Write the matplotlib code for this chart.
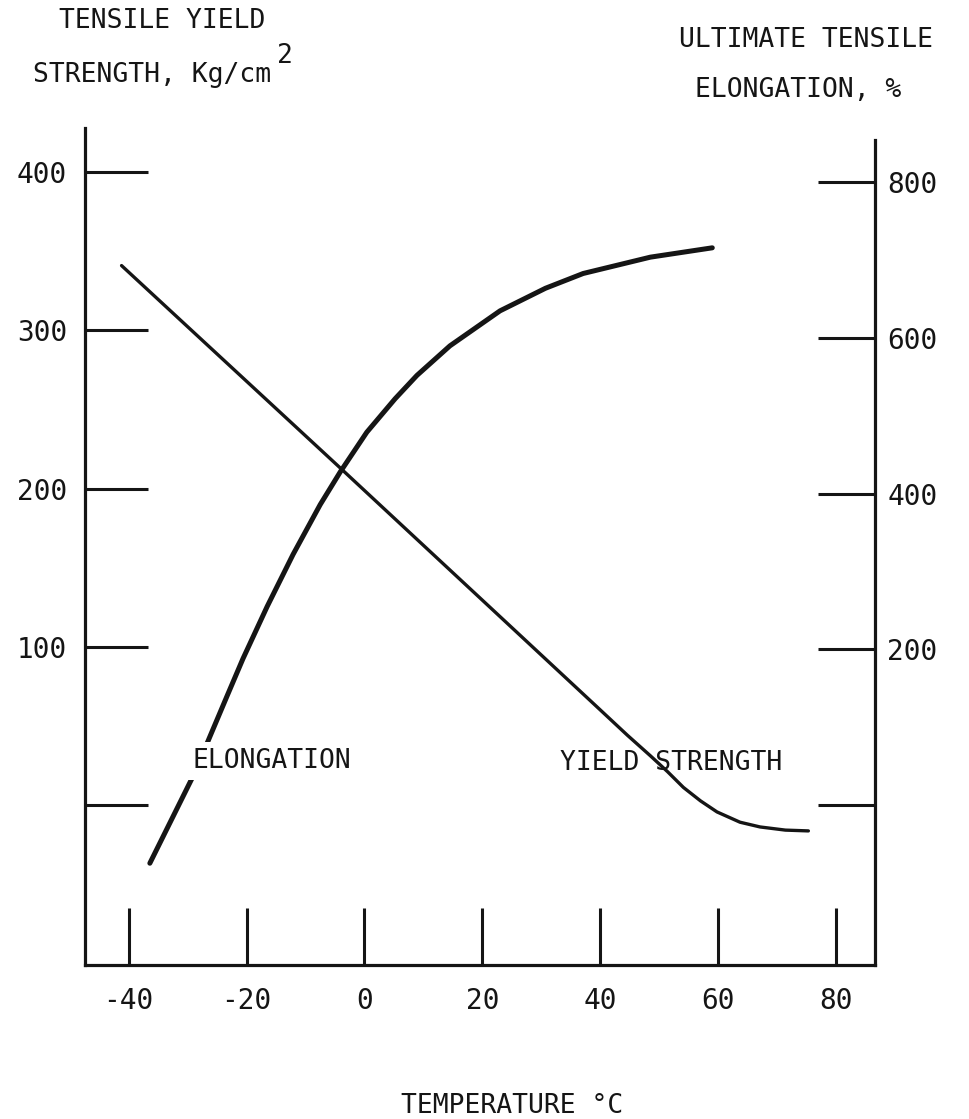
import numpy as np
import matplotlib
matplotlib.use("Agg")
import matplotlib.pyplot as plt

# temperature, deg C
TEMP_TICKS = [-40, -20, 0, 20, 40, 60, 80]

# tensile yield strength, kg/cm2 (left axis)
yield_temp = [-41.2, -4.1, 23.0, 40.0, 44.6, 48.5, 51.4, 54.1, 57.0, 59.8, 63.7, 67.1, 71.4, 75.3]
yield_str = [341, 213, 119, 60, 44, 31, 21, 11, 2.5, -4.5, -11, -14, -16, -16.5]
YIELD_TICKS = [0, 100, 200, 300, 400]
YIELD_LABELS = ["", "100", "200", "300", "400"]

# ultimate tensile elongation, % (right axis)
elong_temp = [-36.4, -28.8, -26.2, -23.3, -20.6, -16.5, -12.1, -7.5, -4.1, 0.4,
              5.2, 8.9, 14.5, 23.0, 30.7, 37.1, 48.5, 59.0]
elong_pct = [-75, 41, 88, 140, 188, 255, 322, 386, 428, 479,
             522, 552, 590, 635, 664, 683, 704, 716]
ELONG_TICKS = [0, 200, 400, 600, 800]
ELONG_LABELS = ["", "200", "400", "600", "800"]

W, H = 970, 1119
INK = "#151515"
FONT = "DejaVu Sans Mono"

plt.rcParams["font.family"] = FONT


def px(x, y):
    """pixel position (from top-left) -> figure fraction"""
    return x / W, 1 - y / H


fig = plt.figure(figsize=(W / 100, H / 100), dpi=100)
left, right, top, bottom = 85, 875, 128, 965
ax = fig.add_axes([left / W, 1 - bottom / H, (right - left) / W, (bottom - top) / H])
ax2 = ax.twinx()

ax.set_xlim(-47.4, 86.6)
ax.set_ylim(-101.3, 428)
ax2.set_ylim(-205.8, 870)

ax.plot(yield_temp, yield_str, color=INK, lw=2.4, solid_capstyle="round",
        solid_joinstyle="round")
ax2.plot(elong_temp, elong_pct, color=INK, lw=3.6, solid_capstyle="round",
         solid_joinstyle="round")

for a in (ax, ax2):
    a.patch.set_visible(False)
    for s in a.spines.values():
        s.set_visible(False)
ax.spines["left"].set_visible(True)
ax.spines["bottom"].set_visible(True)
ax2.spines["right"].set_visible(True)
for s in (ax.spines["left"], ax.spines["bottom"], ax2.spines["right"]):
    s.set_linewidth(2.3)
    s.set_color(INK)
ax2.spines["right"].set_bounds(-205.8, 855)

ax.set_xticks(TEMP_TICKS)
ax.set_xticklabels([str(t) for t in TEMP_TICKS])
ax.set_yticks(YIELD_TICKS)
ax.set_yticklabels(YIELD_LABELS)
ax2.set_yticks(ELONG_TICKS)
ax2.set_yticklabels(ELONG_LABELS)

ax.tick_params(axis="x", direction="in", length=41, width=2.2, color=INK,
               labelsize=20, labelcolor=INK, pad=16)
ax.tick_params(axis="y", direction="in", length=45, width=2.2, color=INK,
               labelsize=20, labelcolor=INK, pad=13)
ax2.tick_params(axis="y", direction="in", length=41, width=2.2, color=INK,
                labelsize=20, labelcolor=INK, pad=9)

txt = dict(fontsize=19, color=INK, ha="center", va="baseline")

fig.text(*px(162, 28), "TENSILE YIELD", **txt)
unit = fig.text(*px(152, 82), "STRENGTH, Kg/cm", **txt)
fig.text(*px(806, 47), "ULTIMATE TENSILE", **txt)
fig.text(*px(798, 97), "ELONGATION, %", **txt)

# raised typewriter-style exponent after the unit
fig.canvas.draw()
ub = unit.get_window_extent()
fig.text((ub.x1 + 6) / W, 1 - 63 / H, "2", fontsize=19, color=INK,
         ha="left", va="baseline")

fig.text(*px(272, 768), "ELONGATION",
         bbox=dict(facecolor="white", edgecolor="none", pad=4), **txt)
fig.text(*px(671, 770), "YIELD STRENGTH", **txt)
fig.text(*px(512, 1113), "TEMPERATURE °C", **txt)

fig.savefig("out.png", dpi=100, facecolor="white")
